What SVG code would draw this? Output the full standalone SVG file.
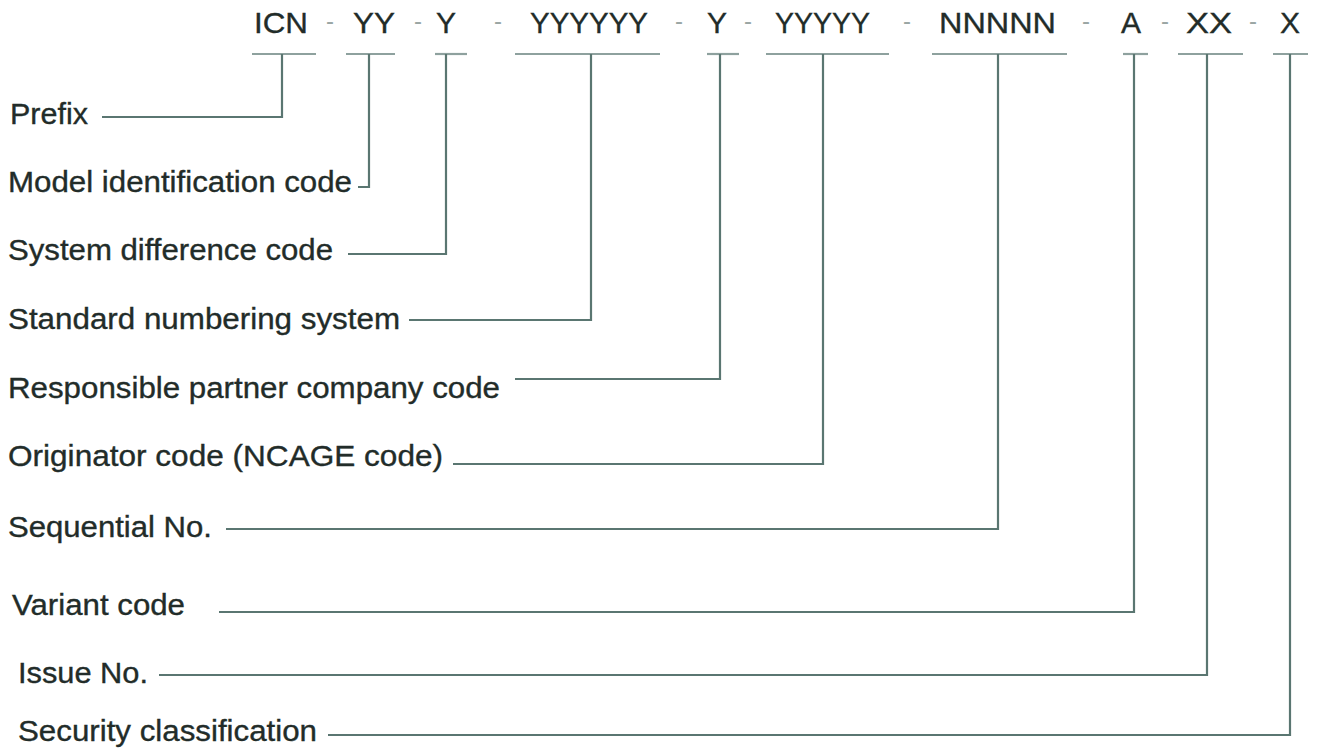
<svg xmlns="http://www.w3.org/2000/svg" width="1318" height="748" viewBox="0 0 1318 748">
<style>
.t{font-family:"Liberation Sans",Arial,sans-serif;fill:#222c29;stroke:#222c29;stroke-width:0.35}
.code{font-size:30px}
.lbl{font-size:29px}
.dash{font-family:"Liberation Sans",Arial,sans-serif;font-size:24px;fill:#9aa6a4;text-anchor:middle}
.ln{fill:none;stroke:#5a7671;stroke-width:2.2}
.ul{fill:none;stroke:#8ea19e;stroke-width:2.2}
</style>
<rect width="1318" height="748" fill="#ffffff"/>
<g id="code-row">
<text class="t code" x="254" y="33" textLength="54" lengthAdjust="spacingAndGlyphs">ICN</text>
<text class="t code" x="353" y="33" textLength="42" lengthAdjust="spacingAndGlyphs">YY</text>
<text class="t code" x="446" y="33" text-anchor="middle">Y</text>
<text class="t code" x="530" y="33" textLength="118" lengthAdjust="spacingAndGlyphs">YYYYYY</text>
<text class="t code" x="717" y="33" text-anchor="middle">Y</text>
<text class="t code" x="775" y="33" textLength="95" lengthAdjust="spacingAndGlyphs">YYYYY</text>
<text class="t code" x="939" y="33" textLength="117" lengthAdjust="spacingAndGlyphs">NNNNN</text>
<text class="t code" x="1131" y="33" text-anchor="middle">A</text>
<text class="t code" x="1186" y="33" textLength="46" lengthAdjust="spacingAndGlyphs">XX</text>
<text class="t code" x="1290" y="33" text-anchor="middle">X</text>
<text class="dash" x="330" y="29">-</text>
<text class="dash" x="418" y="29">-</text>
<text class="dash" x="498" y="29">-</text>
<text class="dash" x="679" y="29">-</text>
<text class="dash" x="748" y="29">-</text>
<text class="dash" x="907" y="29">-</text>
<text class="dash" x="1086" y="29">-</text>
<text class="dash" x="1165" y="29">-</text>
<text class="dash" x="1253" y="29">-</text>
</g>
<g id="underlines">
<line class="ul" x1="252" y1="54" x2="316" y2="54"/>
<line class="ul" x1="346" y1="54" x2="395" y2="54"/>
<line class="ul" x1="435" y1="54" x2="467" y2="54"/>
<line class="ul" x1="515" y1="54" x2="660" y2="54"/>
<line class="ul" x1="707" y1="54" x2="739" y2="54"/>
<line class="ul" x1="766" y1="54" x2="889" y2="54"/>
<line class="ul" x1="932" y1="54" x2="1067" y2="54"/>
<line class="ul" x1="1123" y1="54" x2="1148" y2="54"/>
<line class="ul" x1="1178" y1="54" x2="1243" y2="54"/>
<line class="ul" x1="1273" y1="54" x2="1308" y2="54"/>
</g>
<g id="n-prefix"><text class="t lbl" x="10" y="124" textLength="78" lengthAdjust="spacingAndGlyphs">Prefix</text></g>
<g id="n-model"><text class="t lbl" x="8" y="192" textLength="344" lengthAdjust="spacingAndGlyphs">Model identification code</text></g>
<g id="n-system"><text class="t lbl" x="8" y="260" textLength="325" lengthAdjust="spacingAndGlyphs">System difference code</text></g>
<g id="n-standard"><text class="t lbl" x="8" y="329" textLength="392" lengthAdjust="spacingAndGlyphs">Standard numbering system</text></g>
<g id="n-responsible"><text class="t lbl" x="8" y="398" textLength="492" lengthAdjust="spacingAndGlyphs">Responsible partner company code</text></g>
<g id="n-originator"><text class="t lbl" x="8" y="466" textLength="435" lengthAdjust="spacingAndGlyphs">Originator code (NCAGE code)</text></g>
<g id="n-sequential"><text class="t lbl" x="8" y="537" textLength="204" lengthAdjust="spacingAndGlyphs">Sequential No.</text></g>
<g id="n-variant"><text class="t lbl" x="12" y="615" textLength="173" lengthAdjust="spacingAndGlyphs">Variant code</text></g>
<g id="n-issue"><text class="t lbl" x="18" y="683" textLength="130" lengthAdjust="spacingAndGlyphs">Issue No.</text></g>
<g id="n-security"><text class="t lbl" x="18" y="741" textLength="299" lengthAdjust="spacingAndGlyphs">Security classification</text></g>
<g id="connectors">
<polyline class="ln" points="102,117 282,117 282,54"/>
<polyline class="ln" points="358,187 369,187 369,54"/>
<polyline class="ln" points="348,254 446,254 446,54"/>
<polyline class="ln" points="409,320 591,320 591,54"/>
<polyline class="ln" points="515,379 720,379 720,54"/>
<polyline class="ln" points="453,464 823,464 823,54"/>
<polyline class="ln" points="226,529 998,529 998,54"/>
<polyline class="ln" points="219,612 1134,612 1134,54"/>
<polyline class="ln" points="159,675 1207,675 1207,54"/>
<polyline class="ln" points="328,735 1290,735 1290,54"/>
</g>
</svg>
